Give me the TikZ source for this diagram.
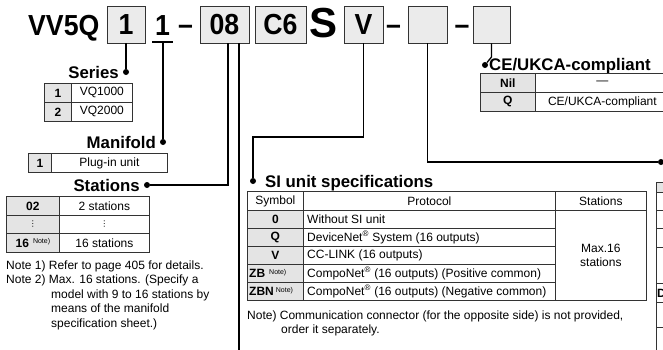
\documentclass[tikz,border=0pt]{standalone}
\usepackage{fontspec}
\setmainfont{Liberation Sans}
\newfontfamily\codefont{Liberation Sans}[FakeStretch=0.92]
\newfontfamily\symfont{DejaVu Sans}
\newcommand\bodyfont{\fontsize{12}{14}\selectfont}
\newcommand\notesup{\fontsize{7}{7}\selectfont Note)}
\newcommand\vdotsym{{\symfont\fontsize{8}{8}\selectfont ⋮}}
\definecolor{boxgray}{HTML}{EBEBEB}
\definecolor{cellgray}{HTML}{E4E4E4}
\definecolor{linegray}{HTML}{333333}
\begin{document}
\begin{tikzpicture}[x=1pt,y=-1pt,
  codebox/.style={draw=linegray, line width=0.9pt, fill=boxgray, minimum height=37, inner sep=0,
    font=\codefont\fontsize{29}{30}\selectfont\bfseries},
  codetext/.style={inner sep=0, font=\codefont\fontsize{29}{30}\selectfont\bfseries},
  cell/.style={draw=linegray, line width=0.8pt, inner sep=0, anchor=north west, font=\bodyfont},
  gcell/.style={cell, fill=cellgray},
  title/.style={inner sep=0, font=\bfseries\fontsize{16.8}{18}\selectfont},
  txt/.style={inner sep=0, font=\bodyfont},
  conn/.style={line width=1.3pt, black},
  dotn/.style={circle, fill=black, inner sep=0, minimum size=6}]
\useasboundingbox (0,0) rectangle (663,349);

% ---------- code row ----------
\node[codetext, anchor=base west] (vv) at (28,35) {VV5Q};
\node[codebox, minimum width=38] (b1) at (126,24.5) {1};
\node[codetext, anchor=base] (u1) at (162.5,35) {1};
\coordinate (ulL) at (152,42); \coordinate (ulR) at (173,42); \coordinate (ulM) at (163,42);
\draw[line width=1.3pt] (ulL) -- (ulR);
\node[codetext, anchor=base] (d1) at (185.5,34) {–};
\node[codebox, minimum width=49] (b08) at (224.5,24.5) {08};
\node[codebox, minimum width=51] (bC6) at (280.5,24.5) {C6};
\node[inner sep=0, anchor=base, font=\bfseries\fontsize{42}{42}\selectfont] (bS) at (323.5,37) {S};
\node[codebox, minimum width=39] (bV) at (363.5,24.5) {V};
\node[codetext, anchor=base] (d2) at (393.5,34) {–};
\node[codebox, minimum width=39] (bB2) at (427.5,24.5) {};
\node[codetext, anchor=base] (d3) at (462,34) {–};
\node[codebox, minimum width=37] (bB3) at (491.5,24.5) {};

% ---------- Series ----------
\node[title, anchor=base east] (tSeries) at (119,78) {Series};
\node[dotn] (dSeries) at (126,72) {};
\node[gcell, minimum width=27, minimum height=19] (s1a) at (44,83) {\bfseries 1};
\node[cell, minimum width=61, minimum height=19] (s1b) at (71,83) {VQ1000};
\node[gcell, minimum width=27, minimum height=19] (s2a) at (44,102) {\bfseries 2};
\node[cell, minimum width=61, minimum height=19] (s2b) at (71,102) {VQ2000};

% ---------- Manifold ----------
\node[title, anchor=base east] (tMan) at (156,148) {Manifold};
\node[dotn] (dMan) at (163,142) {};
\node[gcell, minimum width=23, minimum height=19] (m1a) at (28,153) {\bfseries 1};
\node[cell, minimum width=116, minimum height=19] (m1b) at (51,153) {Plug-in unit};

% ---------- Stations ----------
\node[title, anchor=base east] (tSta) at (140,191) {Stations};
\node[dotn] (dSta) at (147,185) {};
\node[gcell, minimum width=53, minimum height=19] (st1a) at (6,196) {\bfseries 02};
\node[cell, minimum width=90, minimum height=19] (st1b) at (59,196) {2 stations};
\node[gcell, minimum width=53, minimum height=18] (st2a) at (6,215) {};
\node[inner sep=0] (st2at) at (st2a.center) {\vdotsym};
\node[cell, minimum width=90, minimum height=18] (st2b) at (59,215) {};
\node[inner sep=0] (st2bt) at (st2b.center) {\vdotsym};
\node[gcell, minimum width=53, minimum height=19] (st3a) at (6,233) {{\bfseries 16}\hspace{4pt}\raisebox{3.5pt}{\notesup}};
\node[cell, minimum width=90, minimum height=19] (st3b) at (59,233) {16 stations};
\node[txt, anchor=base west] (n1) at (6,269) {Note 1) Refer to page 405 for details.};
\node[txt, anchor=base west] (n2) at (6,283.5) {Note 2) Max. 16 stations. (Specify a};
\node[txt, anchor=base west] (n3) at (51,298) {model with 9 to 16 stations by};
\node[txt, anchor=base west] (n4) at (51,312.5) {means of the manifold};
\node[txt, anchor=base west] (n5) at (51,327) {specification sheet.)};

% ---------- SI unit ----------
\node[dotn] (dSI) at (253,181) {};
\node[title, anchor=base west] (tSI) at (265,187) {SI unit specifications};
\node[cell, minimum width=56, minimum height=19] (h1) at (247,191) {Symbol};
\node[cell, minimum width=252, minimum height=19] (h2) at (303,191) {Protocol};
\node[cell, minimum width=91, minimum height=19] (h3) at (555,191) {Stations};
\foreach \y/\s/\p [count=\i] in {210/0/Without SI unit,
    228/Q/DeviceNet\textsuperscript{®} System (16 outputs),
    246/V/CC-LINK (16 outputs)}{
  \node[gcell, minimum width=56, minimum height=18] (sy\i) at (247,\y) {\bfseries\s};
  \node[cell, minimum width=252, minimum height=18] (pr\i) at (303,\y) {};
  \node[txt, anchor=west] (pt\i) at ([xshift=4]pr\i.west) {\p};
}
\node[gcell, minimum width=56, minimum height=18] (sy4) at (247,264) {};
\node[txt, anchor=west] (sy4t) at ([xshift=2]sy4.west) {{\bfseries ZB}\hspace{4pt}\raisebox{3.5pt}{\notesup}};
\node[cell, minimum width=252, minimum height=18] (pr4) at (303,264) {};
\node[txt, anchor=west] (pt4) at ([xshift=4]pr4.west) {CompoNet\textsuperscript{®} (16 outputs) (Positive common)};
\node[gcell, minimum width=56, minimum height=18] (sy5) at (247,282) {};
\node[txt, anchor=west] (sy5t) at ([xshift=2]sy5.west) {{\bfseries ZBN}\hspace{2pt}\raisebox{3.5pt}{\notesup}};
\node[cell, minimum width=252, minimum height=18] (pr5) at (303,282) {};
\node[txt, anchor=west] (pt5) at ([xshift=4]pr5.west) {CompoNet\textsuperscript{®} (16 outputs) (Negative common)};
\node[cell, minimum width=91, minimum height=90, align=center] (mx) at (555,210) {Max.16\\stations};
\node[txt, anchor=base west] (sn1) at (247,319) {Note) Communication connector (for the opposite side) is not provided,};
\node[txt, anchor=base west] (sn2) at (281,333) {order it separately.};

% ---------- CE/UKCA ----------
\node[dotn] (dCE) at (485,65) {};
\node[title, anchor=base west] (tCE) at (489,70) {CE/UKCA-compliant};
\node[gcell, minimum width=55, minimum height=19] (c1a) at (480,73) {\bfseries Nil};
\node[cell, minimum width=134, minimum height=19] (c1b) at (535,73) {—};
\node[gcell, minimum width=55, minimum height=19] (c2a) at (480,92) {\bfseries Q};
\node[cell, minimum width=134, minimum height=19] (c2b) at (535,92) {CE/UKCA-compliant};

% ---------- right partial table ----------
\node[dotn] (dR) at (661,162) {};
\node[gcell, minimum width=50, minimum height=10] (r0) at (656,182) {};
\node[cell, minimum width=50, minimum height=18] (r1) at (656,192) {};
\node[cell, minimum width=50, minimum height=18] (r2) at (656,210) {};
\node[cell, minimum width=50, minimum height=19] (r3) at (656,228) {};
\node[cell, minimum width=50, minimum height=36] (r4) at (656,247) {};
\node[cell, minimum width=50, minimum height=19] (r5) at (656,283) {};
\node[cell, minimum width=50, minimum height=25] (r6) at (656,302) {};
\node[cell, minimum width=50, minimum height=30] (r7) at (656,327) {};
\node[txt, anchor=west, font=\bfseries\bodyfont] (rD) at ([xshift=1]r5.west) {D};

% ---------- connectors ----------
\coordinate (b08a) at (228,43);
\coordinate (b08b) at (239,43);
\coordinate (downEnd) at (239,352);
\coordinate (siElbow) at (253,137);
\coordinate (ceBend) at (491.5,57);
\draw[conn] (b1.south) -- (dSeries);
\draw[conn] (ulM) -- (dMan);
\draw[conn] (b08a) |- (dSta);
\draw[conn] (b08b) -- (downEnd);
\draw[conn] (bV.south) |- (siElbow) -- (dSI);
\draw[conn] (bB2.south) |- (dR);
\draw[conn] (bB3.south) -- (ceBend) -- (dCE);
\end{tikzpicture}
\end{document}
